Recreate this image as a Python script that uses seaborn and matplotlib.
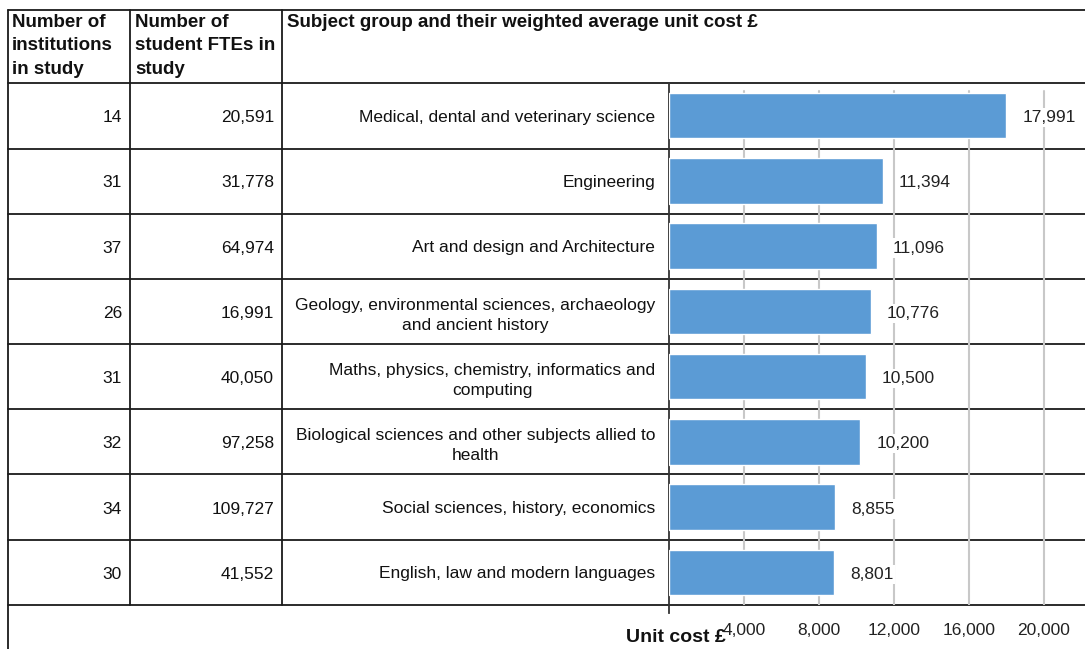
import numpy as np
import pandas as pd
import seaborn as sns
import matplotlib.pyplot as plt
from matplotlib import transforms

institutions = [14, 31, 37, 26, 31, 32, 34, 30]
student_ftes = [20591, 31778, 64974, 16991, 40050, 97258, 109727, 41552]
subjects = ['Medical, dental and veterinary science',
            'Engineering',
            'Art and design and Architecture',
            'Geology, environmental sciences, archaeology\nand ancient history',
            'Maths, physics, chemistry, informatics and\ncomputing',
            'Biological sciences and other subjects allied to\nhealth',
            'Social sciences, history, economics',
            'English, law and modern languages']
unit_costs = [17991, 11394, 11096, 10776, 10500, 10200, 8855, 8801]
tick_values = [4000, 8000, 12000, 16000, 20000]

W, H = 1085, 649
sns.set_style('white')
plt.rcParams['font.family'] = ['Liberation Sans', 'DejaVu Sans']

fig = plt.figure(figsize=(W / 100, H / 100), dpi=100)

# background axes in pixel coordinates for the table grid
bg = fig.add_axes([0, 0, 1, 1])
bg.set_xlim(0, W)
bg.set_ylim(H, 0)
bg.axis('off')
lc = '#1a1a1a'
bg.plot([8, W], [10, 10], color=lc, lw=1.3)
for yy in [83, 149, 214, 279, 344, 409, 474, 540, 605]:
    bg.plot([8, W], [yy, yy], color=lc, lw=1.3)
bg.plot([8, 8], [10, H], color=lc, lw=1.3)
bg.plot([130, 130], [10, 605], color=lc, lw=1.3)
bg.plot([282, 282], [10, 605], color=lc, lw=1.3)

hdr = dict(fontsize=13.5, fontweight='bold', va='top', ha='left', color='#111111', linespacing=1.5)
bg.text(12, 14, 'Number of\ninstitutions\nin study', **hdr)
bg.text(135, 14, 'Number of\nstudent FTEs in\nstudy', **hdr)
bg.text(287, 14, 'Subject group and their weighted average unit cost \u00a3', **hdr)

# bar axes
left = 669 / W
ax = fig.add_axes([left, 1 - 605 / H, 1 - left, (605 - 83) / H])
ax.patch.set_alpha(0)
df = pd.DataFrame({'subject': subjects, 'cost': unit_costs})
sns.barplot(data=df, x='cost', y='subject', orient='h', color='#5b9bd5',
            saturation=1, width=0.7, ax=ax, zorder=3)
xmax = (W - 669) / 75 * 4000
ax.set_xlim(0, xmax)
ax.set_ylim(7.5, -0.5)
for v in tick_values:
    ax.axvline(v, ymin=0, ymax=0.985, color='#c8c8c8', lw=1.5, zorder=1)

for i, v in enumerate(unit_costs):
    ax.text(v + 850, i + 0.03, f'{v:,}', va='center', ha='left', fontsize=12.5, color='#222222',
            zorder=4, bbox=dict(facecolor='white', edgecolor='none', pad=1.5))

ax.set_xticks(tick_values)
ax.set_xticklabels([f'{v:,}' for v in tick_values], fontsize=12.5, color='#222222')
ax.tick_params(axis='x', length=0, pad=13)
ax.tick_params(axis='y', length=0, pad=10)
ax.set_yticks(range(len(subjects)))
ax.set_yticklabels(subjects, fontsize=12.5, color='#111111', linespacing=1.4)
for lab in ax.get_yticklabels():
    lab.set_multialignment('center')
ax.set_xlabel('')
ax.set_ylabel('')
for s in ['top', 'right', 'bottom']:
    ax.spines[s].set_visible(False)
ax.spines['left'].set_color('#333333')
ax.spines['left'].set_linewidth(1.3)
ax.spines['left'].set_bounds(7.62, -0.5)

bg.text(676, 637, 'Unit cost \u00a3', fontsize=14, fontweight='bold', ha='center', va='center', color='#111111')

# table columns
tr = transforms.blended_transform_factory(bg.transData, ax.transData)
for i in range(len(subjects)):
    ax.text(122, i + 0.03, f'{institutions[i]}', transform=tr, ha='right', va='center', fontsize=12.5, color='#111111')
    ax.text(274, i + 0.03, f'{student_ftes[i]:,}', transform=tr, ha='right', va='center', fontsize=12.5, color='#111111')

fig.savefig('out.png', dpi=100)
